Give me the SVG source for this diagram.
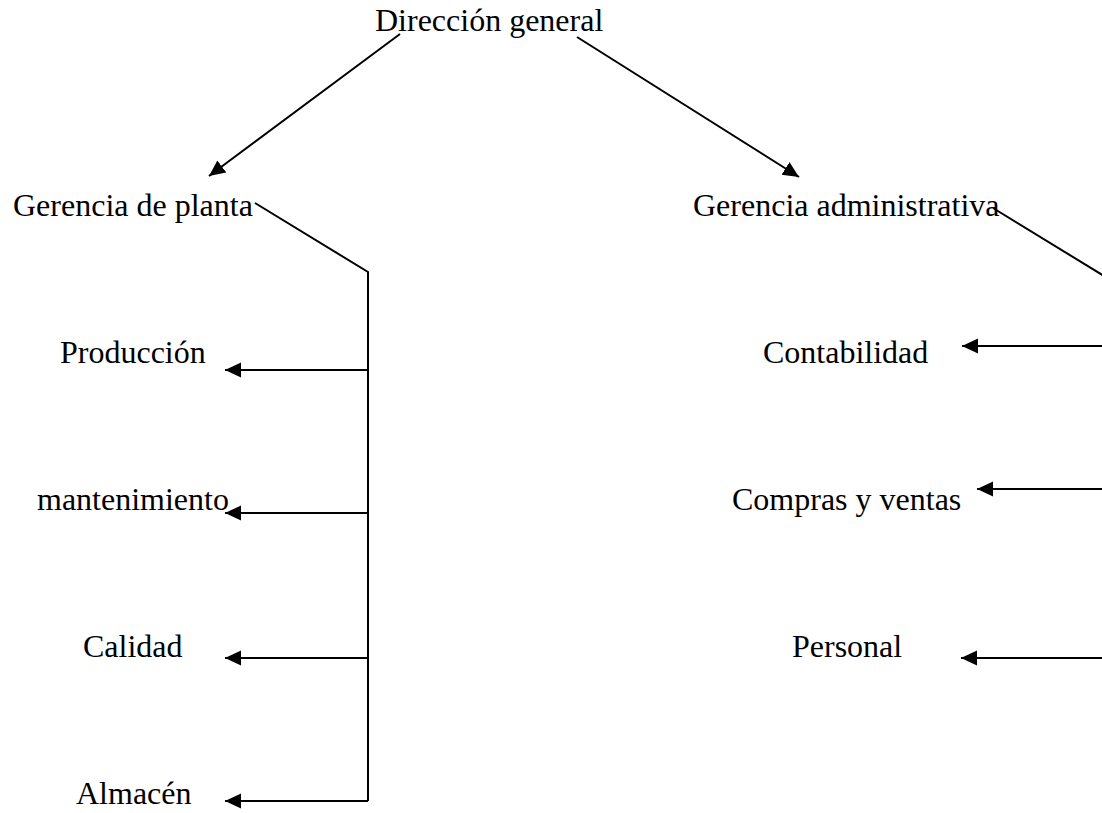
<svg xmlns="http://www.w3.org/2000/svg" width="1102" height="813" viewBox="0 0 1102 813">
<style>
text{font-family:"Liberation Serif","Times New Roman",serif;font-size:32px;fill:#000}
.c{stroke:#000;stroke-width:2;fill:none}
</style>
<defs>
<marker id="ah" markerUnits="userSpaceOnUse" markerWidth="17" markerHeight="17" viewBox="0 0 17 17" refX="16" refY="8.5" orient="auto">
<path d="M0,1 L16,8.5 L0,16 Z" fill="#000"/>
</marker>
</defs>
<rect width="1102" height="813" fill="#fff"/>
<g id="connectors">
<line class="c" x1="400" y1="34" x2="209" y2="176" marker-end="url(#ah)"/>
<line class="c" x1="577" y1="37" x2="799" y2="177" marker-end="url(#ah)"/>
<polyline class="c" points="255,203 368,272 368,801"/>
<line class="c" x1="368" y1="370" x2="225" y2="370" marker-end="url(#ah)"/>
<line class="c" x1="368" y1="513" x2="225" y2="513" marker-end="url(#ah)"/>
<line class="c" x1="368" y1="658" x2="225" y2="658" marker-end="url(#ah)"/>
<line class="c" x1="368" y1="801" x2="225" y2="801" marker-end="url(#ah)"/>
<polyline class="c" points="993,208 1104,276"/>
<line class="c" x1="1104" y1="346" x2="962" y2="346" marker-end="url(#ah)"/>
<line class="c" x1="1104" y1="489" x2="977" y2="489" marker-end="url(#ah)"/>
<line class="c" x1="1104" y1="658" x2="961" y2="658" marker-end="url(#ah)"/>
</g>
<g id="n-direccion"><text x="375" y="31">Dirección general</text></g>
<g id="n-planta"><text x="13" y="216">Gerencia de planta</text></g>
<g id="n-admin"><text x="693" y="216">Gerencia administrativa</text></g>
<g id="n-produccion"><text x="60" y="363">Producción</text></g>
<g id="n-mantenimiento"><text x="37" y="510">mantenimiento</text></g>
<g id="n-calidad"><text x="83" y="657">Calidad</text></g>
<g id="n-almacen"><text x="76" y="804">Almacén</text></g>
<g id="n-contabilidad"><text x="763" y="363">Contabilidad</text></g>
<g id="n-compras"><text x="732" y="510">Compras y ventas</text></g>
<g id="n-personal"><text x="792" y="657">Personal</text></g>
</svg>
